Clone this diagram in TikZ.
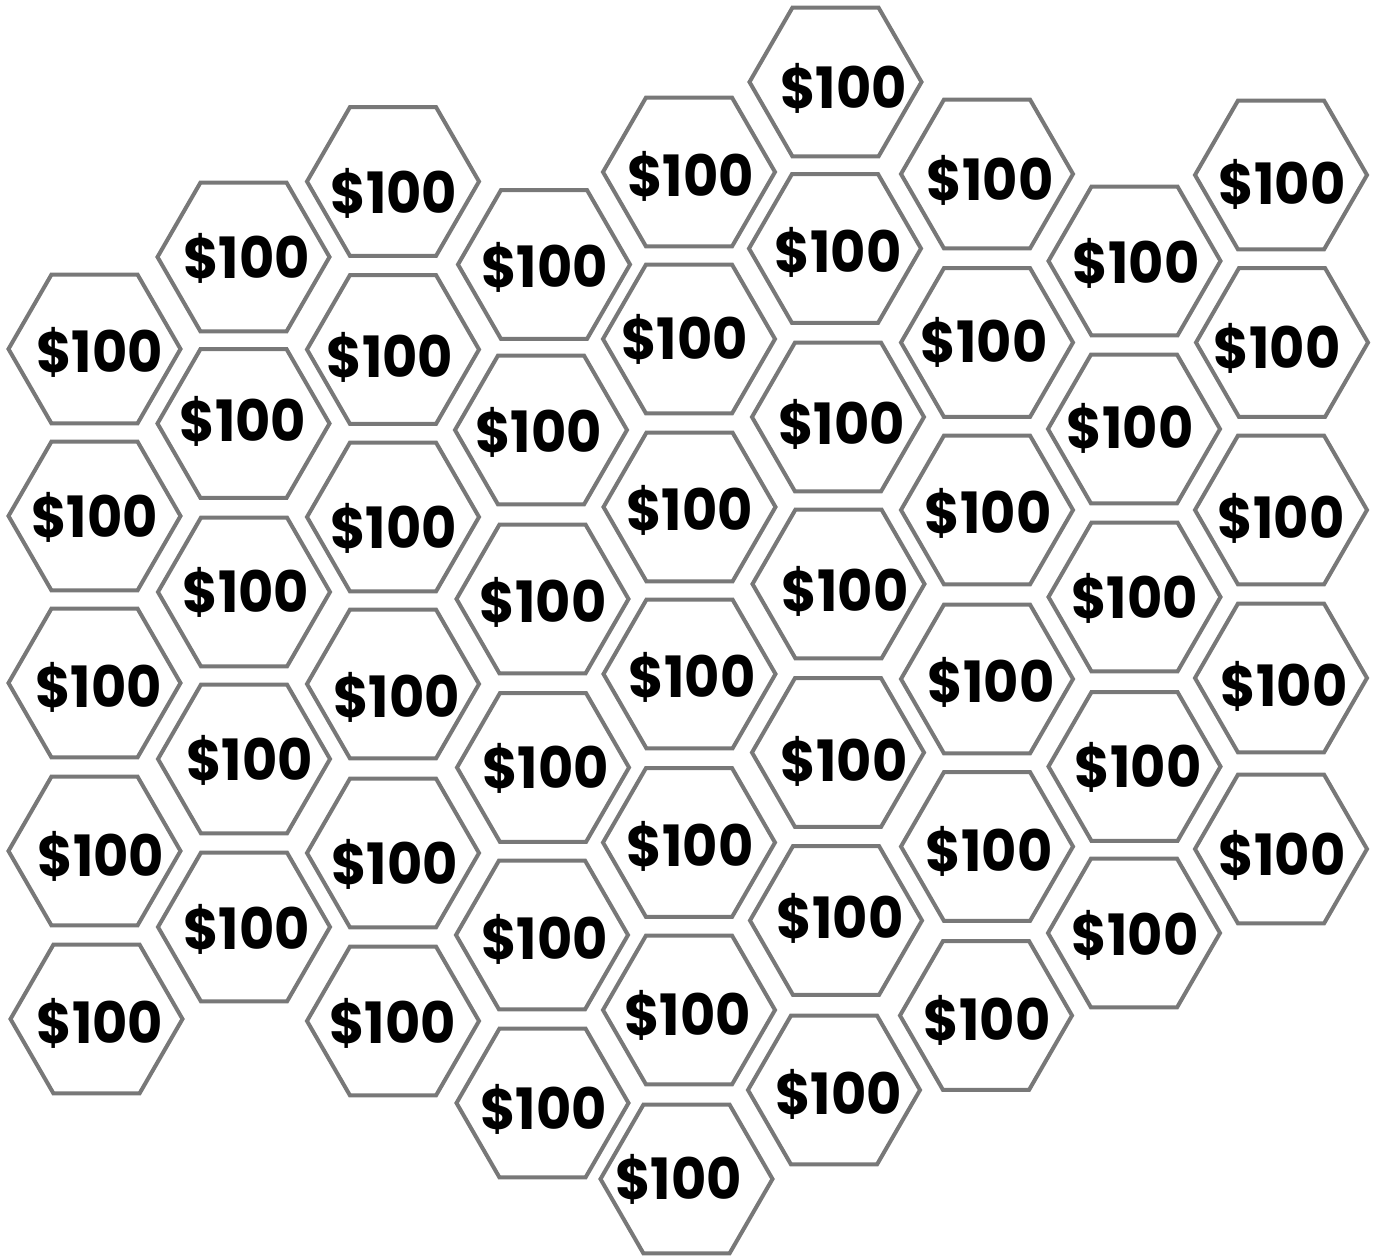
\documentclass[tikz,border=0pt]{standalone}
\usepackage{fontspec}
\setmainfont{Poppins}
\newfontfamily\hexfont{Poppins}[FakeStretch=0.95]
\definecolor{hexgray}{RGB}{120,120,120}
\tikzset{
  hexcell/.style={draw=hexgray, line width=4pt, line join=miter},
  money/.style={anchor=base, inner sep=0pt, font=\fontsize{57}{57}\hexfont\bfseries, text=black}
}
\begin{document}
\begin{tikzpicture}[x=1pt,y=-1pt]
\useasboundingbox (0,0) rectangle (1376,1256);
\foreach \hx/\hy/\tx/\ty [count=\i] in {
  94.5/349/99.5/352.5, 94.5/516/94.5/517, 94.5/683/98.5/687.5, 94.5/851/101/856, 96.5/1019/100/1023.5,
  243.5/257/246.5/258, 243.5/423.5/243/421, 244/592/246/592, 244/759/249.5/760, 244/927/246.5/929,
  393/181.5/394/193, 393/349.5/390/357, 393/517/393.5/528, 393/684/396.5/697, 393/853/394.5/864, 393/1021/392.5/1023.5,
  544/264.5/544.5/267.5, 541/430/538.5/432, 542.5/599/543/602, 543/767.5/545.5/768, 542/935/544.5/939, 542.5/1103/543.5/1109,
  689/172/690.5/176.5, 689/339/684.5/339.5, 689.5/507/689.5/510, 689.5/674/692/677, 689/842.5/690/846, 689/1010/687.5/1015, 686.5/1179/678.5/1179,
  835.5/82/843.5/88.5, 835/248.5/838/252.5, 838/417/841.5/424, 838.5/584/845/591, 838/752.5/844/761, 836/920.5/840/918, 834/1090/838.5/1094.5,
  987/174/990/180, 987/342.5/984/342, 987/510/988/513, 987/679/991/682.5, 987/846.5/989/851, 986/1015.5/987/1020,
  1134.5/261/1136/263, 1134/429/1130/428, 1134.5/597/1134.5/598, 1134.5/766.5/1138/767, 1134/933/1135/935,
  1281/175/1282/184, 1282/342.5/1277/348, 1281/510/1281/518.5, 1281/678/1284/686.5, 1281/849/1282/855}
{
  \coordinate (c\i) at (\hx,\hy);
  \draw[hexcell] (c\i) ++(86,0) -- ++(-43,74.48) -- ++(-86,0) -- ++(-43,-74.48) -- ++(43,-74.48) -- ++(86,0) -- cycle;
  \node[money] (t\i) at (\tx,\ty+20) {\$100};
}
\end{tikzpicture}
\end{document}
